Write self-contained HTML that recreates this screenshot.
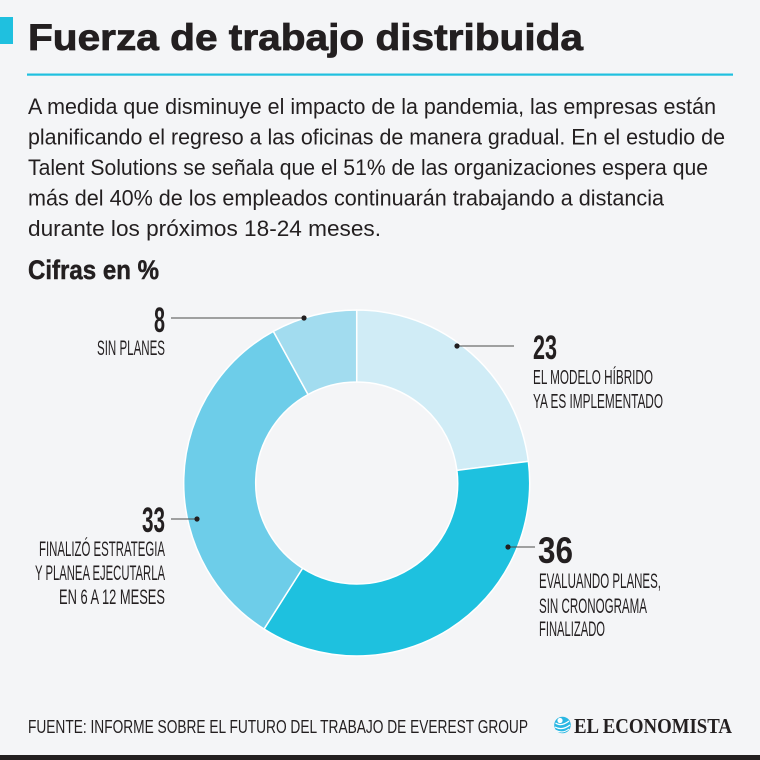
<!DOCTYPE html>
<html>
<head>
<meta charset="utf-8">
<style>
html,body{margin:0;padding:0;background:#f4f5f7;}
svg{display:block;}
</style>
</head>
<body>
<svg width="760" height="760" viewBox="0 0 760 760" xmlns="http://www.w3.org/2000/svg">
<rect x="0" y="0" width="760" height="760" fill="#f4f5f7"/>
<!-- header -->
<rect x="0" y="17" width="13" height="27" fill="#1fc0df"/>
<text x="28" y="50" font-family="Liberation Sans, sans-serif" font-weight="bold" font-size="37" fill="#231f20" stroke="#231f20" stroke-width="0.8" textLength="555" lengthAdjust="spacingAndGlyphs">Fuerza de trabajo distribuida</text>
<rect x="27" y="73.5" width="706" height="2.2" fill="#1fc0df"/>

<!-- paragraph -->
<g font-family="Liberation Sans, sans-serif" font-size="22" fill="#231f20">
<text x="28" y="114" textLength="688" lengthAdjust="spacingAndGlyphs">A medida que disminuye el impacto de la pandemia, las empresas están</text>
<text x="28" y="144.5" textLength="697" lengthAdjust="spacingAndGlyphs">planificando el regreso a las oficinas de manera gradual. En el estudio de</text>
<text x="28" y="175" textLength="680" lengthAdjust="spacingAndGlyphs">Talent Solutions se señala que el 51% de las organizaciones espera que</text>
<text x="28" y="205.5" textLength="636" lengthAdjust="spacingAndGlyphs">más del 40% de los empleados continuarán trabajando a distancia</text>
<text x="28" y="236" textLength="353" lengthAdjust="spacingAndGlyphs">durante los próximos 18-24 meses.</text>
</g>
<text x="28" y="279" font-family="Liberation Sans, sans-serif" font-weight="bold" font-size="27" fill="#231f20" stroke="#231f20" stroke-width="0.5" textLength="131" lengthAdjust="spacingAndGlyphs">Cifras en %</text>

<!-- donut -->
<g stroke="#ffffff" stroke-width="1.5" stroke-linejoin="round">
<path d="M356.7,310 A173,173 0 0 1 528.34,461.32 L456.90,470.34 A101,101 0 0 0 356.7,382 Z" fill="#d0ecf6"/>
<path d="M528.34,461.32 A173,173 0 0 1 264.00,629.07 L302.58,568.28 A101,101 0 0 0 456.90,470.34 Z" fill="#1ec1df"/>
<path d="M264.00,629.07 A173,173 0 0 1 273.36,331.40 L308.04,394.49 A101,101 0 0 0 302.58,568.28 Z" fill="#6dcde9"/>
<path d="M273.36,331.40 A173,173 0 0 1 356.7,310 L356.7,382 A101,101 0 0 0 308.04,394.49 Z" fill="#a2dcef"/>
</g>

<!-- leaders -->
<g stroke="#4a4a4a" stroke-width="1.1">
<line x1="171" y1="318" x2="304" y2="318"/>
<line x1="457" y1="346" x2="514" y2="346"/>
<line x1="171" y1="519" x2="197" y2="519"/>
<line x1="508" y1="547" x2="535" y2="547"/>
</g>
<g fill="#231f20">
<circle cx="304" cy="318" r="2.6"/>
<circle cx="457" cy="346" r="2.6"/>
<circle cx="197" cy="519" r="2.6"/>
<circle cx="508" cy="547" r="2.6"/>
</g>

<!-- labels -->
<g font-family="Liberation Sans, sans-serif" fill="#231f20">
<text x="154" y="332" font-weight="bold" font-size="35" textLength="11" lengthAdjust="spacingAndGlyphs">8</text>
<text x="97" y="355" font-size="21" textLength="68" lengthAdjust="spacingAndGlyphs">SIN PLANES</text>

<text x="142" y="532" font-weight="bold" font-size="35" textLength="23" lengthAdjust="spacingAndGlyphs">33</text>
<text x="39" y="556" font-size="21" textLength="126" lengthAdjust="spacingAndGlyphs">FINALIZÓ ESTRATEGIA</text>
<text x="35" y="580" font-size="21" textLength="130" lengthAdjust="spacingAndGlyphs">Y PLANEA EJECUTARLA</text>
<text x="59" y="604" font-size="21" textLength="106" lengthAdjust="spacingAndGlyphs">EN 6 A 12 MESES</text>

<text x="533" y="359" font-weight="bold" font-size="34" textLength="24" lengthAdjust="spacingAndGlyphs">23</text>
<text x="533" y="384" font-size="20" textLength="120" lengthAdjust="spacingAndGlyphs">EL MODELO HÍBRIDO</text>
<text x="533" y="408" font-size="20" textLength="130" lengthAdjust="spacingAndGlyphs">YA ES IMPLEMENTADO</text>

<text x="538" y="563" font-weight="bold" font-size="37" textLength="35" lengthAdjust="spacingAndGlyphs">36</text>
<text x="539" y="588" font-size="21" textLength="122" lengthAdjust="spacingAndGlyphs">EVALUANDO PLANES,</text>
<text x="539" y="613" font-size="21" textLength="108" lengthAdjust="spacingAndGlyphs">SIN CRONOGRAMA</text>
<text x="539" y="636" font-size="21" textLength="66" lengthAdjust="spacingAndGlyphs">FINALIZADO</text>
</g>

<!-- footer -->
<text x="28" y="733" font-family="Liberation Sans, sans-serif" font-size="18.5" fill="#231f20" textLength="500" lengthAdjust="spacingAndGlyphs">FUENTE: INFORME SOBRE EL FUTURO DEL TRABAJO DE EVEREST GROUP</text>
<g>
<circle cx="562.5" cy="725" r="8.3" fill="#2ab7e3"/>
<path d="M555,727 Q562,731 570,725" stroke="#fff" stroke-width="1.2" fill="none"/>
<path d="M556,730.5 Q563,734 569,729" stroke="#fff" stroke-width="1.1" fill="none"/>
<path d="M555.5,723 Q561,727 569,721" stroke="#fff" stroke-width="1.2" fill="none"/>
<circle cx="560" cy="720.5" r="2.6" fill="#fff"/>
</g>
<text x="574" y="733" font-family="Liberation Serif, serif" font-weight="bold" font-size="21" fill="#231f20" textLength="158" lengthAdjust="spacingAndGlyphs">EL ECONOMISTA</text>
<rect x="0" y="755" width="760" height="5" fill="#231f20"/>
</svg>
</body>
</html>
